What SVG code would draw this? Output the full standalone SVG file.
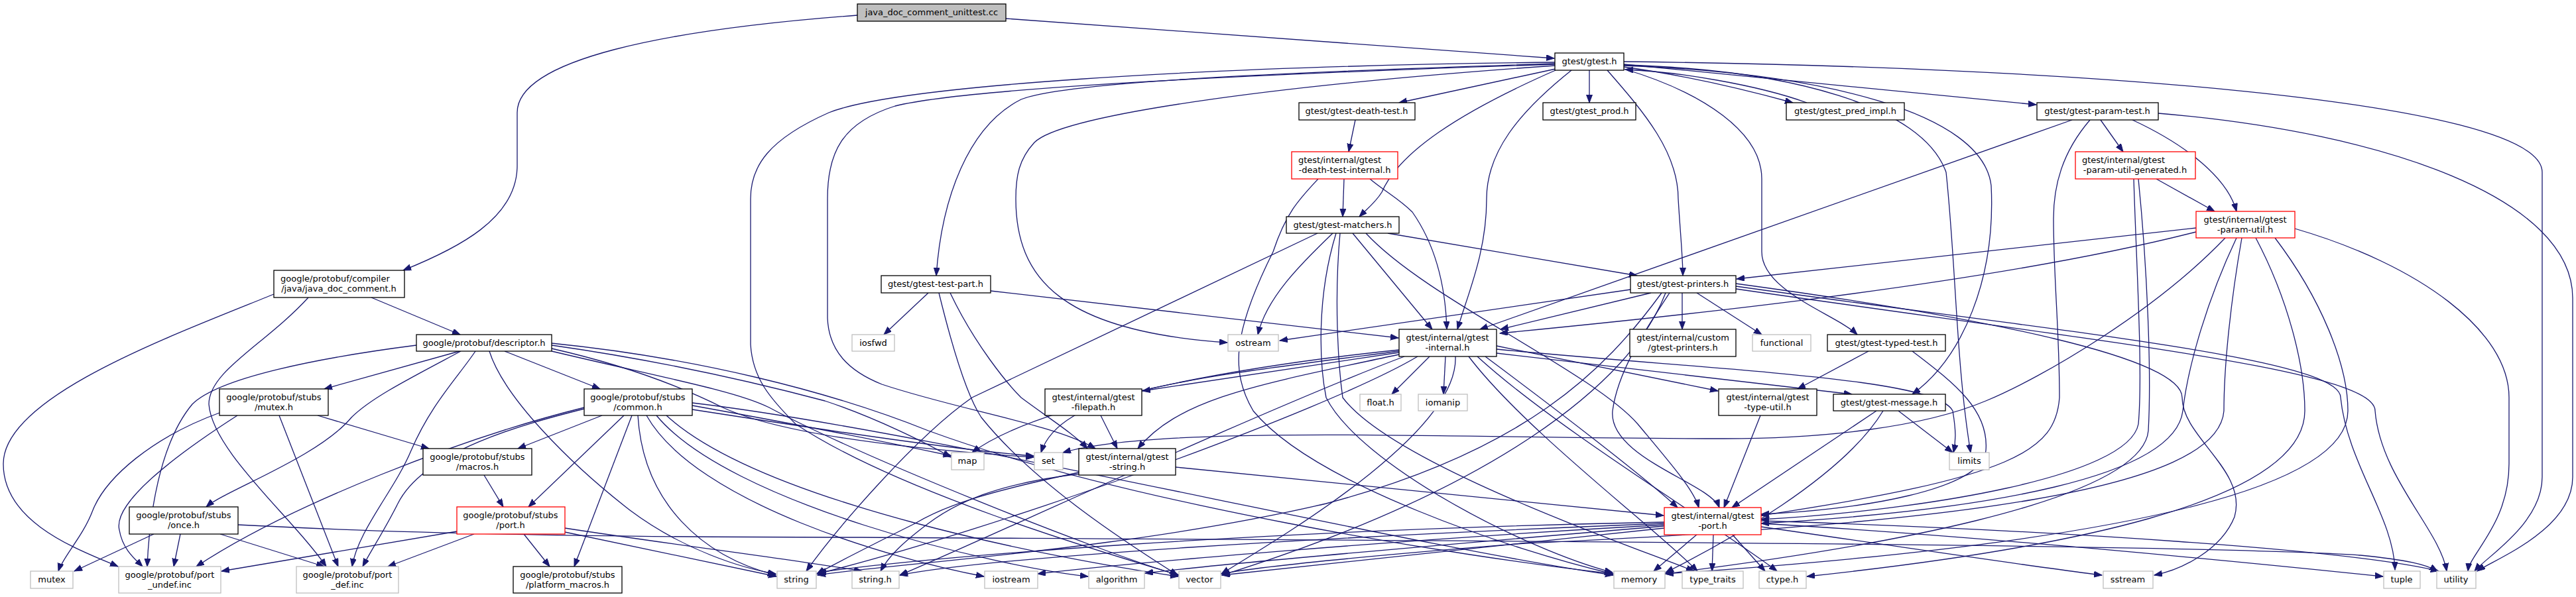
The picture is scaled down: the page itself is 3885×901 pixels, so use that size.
<svg xmlns="http://www.w3.org/2000/svg" width="3885" height="901" viewBox="0 0 3885 901">
<style>
rect{fill:#fff;stroke-width:1.3}
.b{stroke:#000}
.g{stroke:#bfbfbf}
.r{stroke:#ff0000}
.f{fill:#bfbfbf;stroke:#000}
text{font-family:"DejaVu Sans","Liberation Sans",sans-serif;font-size:13px;fill:#000}
.c{text-anchor:middle}
#edges path{fill:none;stroke:#191970;stroke-width:1.3;marker-end:url(#a)}
</style>
<defs>
<marker id="a" markerUnits="userSpaceOnUse" markerWidth="13" markerHeight="10" refX="12" refY="4.5" orient="auto">
<path d="M0,0 L12,4.5 L0,9 z" fill="#191970" stroke="#191970" stroke-width="1"/>
</marker>
</defs>
<rect x="0" y="0" width="3885" height="901" style="fill:#fff;stroke:none"/>
<g id="edges">
<path d="M1517,28 L2344,88"/>
<path d="M1293,23 C1000,45 780,90 780,170 L780,250 C780,330 690,375 608,408"/>
<path d="M2346,104 L2110,155"/>
<path d="M2397,106 L2397,155"/>
<path d="M2449,101 C2530,112 2620,132 2704,155"/>
<path d="M2725,155 C2650,128 2530,108 2451,105"/>
<path d="M2449,97 L3071,158"/>
<path d="M2449,104 C2570,140 2657,200 2657,270 L2657,380 C2657,440 2770,475 2801,505"/>
<path d="M2345,96 C1900,110 1600,125 1540,150 C1460,190 1420,300 1412,416"/>
<path d="M2345,99 C1900,130 1600,175 1560,215 C1537,240 1532,265 1532,300 C1532,420 1600,500 1851,517"/>
<path d="M2346,106 C2200,170 2110,230 2084,290 C2075,305 2062,315 2050,327"/>
<path d="M2370,106 C2290,170 2242,230 2242,300 C2242,380 2215,440 2198,497"/>
<path d="M2424,106 C2480,170 2531,230 2531,300 C2534,350 2538,390 2538,416"/>
<path d="M2449,99 C2750,110 2990,170 3003,280 C3010,420 2960,540 2884,595"/>
<path d="M2449,98 C2700,105 2900,160 2935,260 C2950,400 2950,550 2972,683"/>
<path d="M2449,93 C3100,100 3834,150 3834,260 L3834,720 C3834,790 3750,840 3732,862"/>
<path d="M2345,94 C1800,100 1350,130 1250,170 C1160,210 1132,250 1132,300 L1132,520 C1135,570 1160,600 1200,640 C1350,740 1650,830 1778,868"/>
<path d="M2345,97 C1800,115 1450,135 1350,160 C1270,185 1248,230 1248,300 L1248,480 C1250,530 1280,560 1330,580 C1450,620 1590,640 1652,677"/>
<path d="M2044,181 L2034,229"/>
<path d="M2027,270 L2025,327"/>
<path d="M2066,270 C2090,290 2110,300 2130,320 C2165,370 2180,430 2182,497"/>
<path d="M1988,270 C1960,300 1940,320 1920,380 C1860,500 1855,560 1890,620 C1980,730 2280,830 2432,866"/>
<path d="M3125,181 L2232,497"/>
<path d="M3152,181 C3110,230 3097,280 3097,330 C3097,420 3106,500 3106,600 C3100,680 3040,720 2656,778"/>
<path d="M3168,181 L3202,229"/>
<path d="M3216,181 C3300,220 3360,270 3373,319"/>
<path d="M3255,171 C3600,200 3880,300 3880,450 L3880,720 C3880,800 3760,845 3736,862"/>
<path d="M3252,270 L3340,319"/>
<path d="M3218,270 C3222,400 3232,560 3225,640 C3210,720 2900,770 2656,784"/>
<path d="M3225,270 C3238,400 3245,560 3240,650 C3230,760 2800,830 2511,866"/>
<path d="M3312,344 L2619,421"/>
<path d="M3312,350 C3000,430 2500,480 2262,503"/>
<path d="M3356,359 C3250,470 3080,570 2995,605 C2900,645 2750,662 2600,662 C2200,662 1750,640 1603,683"/>
<path d="M3373,359 C3330,450 3300,550 3292,620 C3280,720 3000,770 2656,790"/>
<path d="M3381,359 C3365,450 3354,550 3354,620 C3345,740 2950,790 2300,820 C2050,840 1900,855 1842,866"/>
<path d="M3402,359 C3450,450 3476,550 3476,620 C3476,760 3100,830 2725,870"/>
<path d="M3431,359 C3500,450 3541,550 3541,620 C3541,780 2900,840 2512,866"/>
<path d="M3461,345 C3650,400 3784,500 3784,600 L3784,700 C3784,790 3725,835 3722,862"/>
<path d="M2093,352 L2469,416"/>
<path d="M2040,352 L2160,497"/>
<path d="M2010,352 C1960,400 1910,450 1897,505"/>
<path d="M1987,352 L1466,600 C1380,660 1260,800 1216,862"/>
<path d="M2015,352 C1985,450 1990,550 2000,600 C2050,700 2300,830 2432,864"/>
<path d="M2021,352 C2012,450 2018,550 2025,600 C2100,700 2450,820 2555,862"/>
<path d="M2060,352 C2150,450 2400,560 2470,640 C2520,700 2555,740 2562,766"/>
<path d="M1400,442 L1333,505"/>
<path d="M1416,442 C1440,540 1460,600 1480,630 C1560,730 1700,820 1776,868"/>
<path d="M1433,442 C1470,520 1520,580 1540,600 C1580,630 1620,655 1640,677"/>
<path d="M1494,439 L2109,510"/>
<path d="M2459,437 L1930,514"/>
<path d="M2490,442 L2263,497"/>
<path d="M2537,442 L2537,497"/>
<path d="M2559,442 L2657,505"/>
<path d="M2506,442 C2420,560 2300,680 2000,760 C1700,830 1350,850 1233,868"/>
<path d="M2512,442 C2460,580 2250,740 1843,868"/>
<path d="M2518,442 C2480,500 2440,560 2432,620 C2425,690 2580,730 2593,766"/>
<path d="M2618,428 C3000,480 3291,540 3291,600 C3291,660 3390,710 3370,780 C3350,830 3290,860 3249,868"/>
<path d="M2618,432 C3100,500 3530,540 3530,600 C3540,700 3610,780 3612,860"/>
<path d="M2618,436 C3200,520 3582,560 3582,620 C3590,720 3680,800 3690,862"/>
<path d="M2110,528 C1800,560 1550,620 1466,683"/>
<path d="M2110,530 C1800,570 1600,590 1570,683"/>
<path d="M2110,532 L1723,590"/>
<path d="M2110,535 C1900,580 1780,600 1716,677"/>
<path d="M2138,538 C2000,620 1500,800 1233,866"/>
<path d="M2118,538 C1900,620 1450,830 1357,868"/>
<path d="M2156,538 L2099,595"/>
<path d="M2180,538 L2177,595"/>
<path d="M2195,538 C2200,650 1950,800 1842,866"/>
<path d="M2257,527 C2600,560 2920,570 2945,620 C2950,650 2950,665 2946,683"/>
<path d="M2215,538 C2300,650 2500,800 2560,862"/>
<path d="M2228,538 C2350,650 2600,800 2680,862"/>
<path d="M2240,538 C2350,620 2480,720 2530,766"/>
<path d="M2257,533 L2793,595"/>
<path d="M2257,522 L2591,590"/>
<path d="M2818,530 L2711,587"/>
<path d="M2884,530 C2950,580 3000,620 2995,680 C2990,740 2800,770 2656,776"/>
<path d="M2655,627 L2600,766"/>
<path d="M1660,627 L1685,677"/>
<path d="M2863,620 L2945,683"/>
<path d="M2830,620 L2612,766"/>
<path d="M2840,620 C2780,720 2600,820 2512,864"/>
<path d="M1773,705 L2509,778"/>
<path d="M1627,713 C1500,740 1430,760 1380,790 C1300,830 1260,850 1232,866"/>
<path d="M1630,715 C1500,730 1440,760 1400,790 C1360,820 1340,840 1328,862"/>
<path d="M2510,790 C2000,810 1500,840 1357,868"/>
<path d="M2510,792 C2100,815 1700,850 1565,866"/>
<path d="M2510,794 C2200,820 1850,850 1727,865"/>
<path d="M2510,797 C2250,825 1950,855 1843,868"/>
<path d="M2510,788 C1900,800 1400,840 1234,864"/>
<path d="M2560,806 L2494,862"/>
<path d="M2584,806 L2582,862"/>
<path d="M2612,806 L2662,862"/>
<path d="M2656,795 C2900,830 3100,860 3170,868"/>
<path d="M2656,790 C3000,810 3400,850 3594,870"/>
<path d="M2656,786 C3100,800 3550,830 3678,862"/>
<path d="M693,530 L489,587"/>
<path d="M695,530 C620,570 560,600 530,630 C480,690 340,740 311,765"/>
<path d="M717,530 C690,570 650,610 620,680 C595,740 540,800 531,855"/>
<path d="M738,530 C760,600 860,700 950,770 C1030,830 1120,858 1170,866"/>
<path d="M761,530 L905,587"/>
<path d="M628,521 C480,540 330,570 290,610 C240,670 225,780 222,855"/>
<path d="M832,521 C1000,545 1150,580 1244,605 C1320,630 1400,670 1434,690"/>
<path d="M832,526 C960,555 1040,590 1090,615 C1200,665 1450,683 1559,690"/>
<path d="M832,530 C1000,570 1110,590 1160,615 C1300,690 1650,830 1777,868"/>
<path d="M832,518 C1050,540 1250,590 1400,650 C1700,760 2200,840 2433,866"/>
<path d="M560,449 L694,505"/>
<path d="M413,444 C250,510 5,600 5,700 C5,790 120,830 178,855"/>
<path d="M465,449 C400,520 315,560 315,610 C320,680 440,780 492,855"/>
<path d="M331,623 C230,660 160,720 140,770 C125,810 95,840 88,862"/>
<path d="M358,627 C260,690 170,760 180,800 C185,830 205,845 215,855"/>
<path d="M421,627 L510,855"/>
<path d="M479,627 L647,677"/>
<path d="M881,615 C700,660 440,760 296,855"/>
<path d="M881,617 C790,640 640,680 600,760 C580,800 560,830 547,855"/>
<path d="M908,627 L781,677"/>
<path d="M941,627 L797,765"/>
<path d="M953,627 L866,855"/>
<path d="M962,627 C970,760 1060,840 1170,868"/>
<path d="M975,627 C1050,760 1350,845 1484,870"/>
<path d="M990,627 C1100,760 1500,855 1641,870"/>
<path d="M1005,627 C1150,760 1600,845 1777,870"/>
<path d="M1044,612 C1200,640 1350,670 1435,688"/>
<path d="M1044,618 C1250,650 1450,680 1559,688"/>
<path d="M1044,608 C1400,650 2100,820 2433,868"/>
<path d="M689,802 L334,862"/>
<path d="M715,806 L585,855"/>
<path d="M790,806 L829,855"/>
<path d="M852,803 L1171,870"/>
<path d="M852,797 C1000,820 1200,845 1300,862"/>
<path d="M232,806 L112,862"/>
<path d="M272,806 L262,855"/>
<path d="M332,806 L489,855"/>
<path d="M359,792 C600,805 900,811 1300,811 C2000,815 3300,820 3560,838 C3630,845 3660,852 3676,862"/>
<path d="M730,717 L759,765"/>
</g>
<g id="n_cc"><rect class="f" x="1293" y="6" width="224" height="26"/><text class="c" x="1405" y="23">java_doc_comment_unittest.cc</text></g>
<g id="n_gtest"><rect class="b" x="2345" y="80" width="104" height="26"/><text class="c" x="2397" y="97">gtest/gtest.h</text></g>
<g id="n_death"><rect class="b" x="1959" y="155" width="175" height="26"/><text class="c" x="2046" y="172">gtest/gtest-death-test.h</text></g>
<g id="n_prod"><rect class="b" x="2327" y="155" width="140" height="26"/><text class="c" x="2397" y="172">gtest/gtest_prod.h</text></g>
<g id="n_pred"><rect class="b" x="2694" y="155" width="178" height="26"/><text class="c" x="2783" y="172">gtest/gtest_pred_impl.h</text></g>
<g id="n_ptest"><rect class="b" x="3072" y="155" width="183" height="26"/><text class="c" x="3163" y="172">gtest/gtest-param-test.h</text></g>
<g id="n_dti"><rect class="r" x="1948" y="229" width="160" height="41"/><text x="1958" y="246">gtest/internal/gtest</text><text class="c" x="2028" y="261">-death-test-internal.h</text></g>
<g id="n_pug"><rect class="r" x="3130" y="229" width="181" height="41"/><text x="3140" y="246">gtest/internal/gtest</text><text class="c" x="3220" y="261">-param-util-generated.h</text></g>
<g id="n_pu"><rect class="r" x="3312" y="319" width="149" height="40"/><text class="c" x="3386" y="336">gtest/internal/gtest</text><text class="c" x="3386" y="351">-param-util.h</text></g>
<g id="n_match"><rect class="b" x="1940" y="327" width="170" height="25"/><text class="c" x="2025" y="344">gtest/gtest-matchers.h</text></g>
<g id="n_jdc"><rect class="b" x="413" y="408" width="197" height="41"/><text x="423" y="425">google/protobuf/compiler</text><text class="c" x="511" y="440">/java/java_doc_comment.h</text></g>
<g id="n_tpart"><rect class="b" x="1329" y="416" width="165" height="26"/><text class="c" x="1411" y="433">gtest/gtest-test-part.h</text></g>
<g id="n_prn"><rect class="b" x="2459" y="416" width="159" height="26"/><text class="c" x="2538" y="433">gtest/gtest-printers.h</text></g>
<g id="n_desc"><rect class="b" x="628" y="505" width="204" height="25"/><text class="c" x="730" y="522">google/protobuf/descriptor.h</text></g>
<g id="n_iosfwd"><rect class="g" x="1285" y="505" width="64" height="25"/><text class="c" x="1317" y="522">iosfwd</text></g>
<g id="n_ostream"><rect class="g" x="1852" y="505" width="76" height="25"/><text class="c" x="1890" y="522">ostream</text></g>
<g id="n_gint"><rect class="b" x="2110" y="497" width="147" height="41"/><text class="c" x="2183" y="514">gtest/internal/gtest</text><text class="c" x="2183" y="529">-internal.h</text></g>
<g id="n_cprn"><rect class="b" x="2458" y="497" width="160" height="41"/><text class="c" x="2538" y="514">gtest/internal/custom</text><text class="c" x="2538" y="529">/gtest-printers.h</text></g>
<g id="n_func"><rect class="g" x="2643" y="505" width="88" height="25"/><text class="c" x="2687" y="522">functional</text></g>
<g id="n_typed"><rect class="b" x="2756" y="505" width="178" height="25"/><text class="c" x="2845" y="522">gtest/gtest-typed-test.h</text></g>
<g id="n_mutexh"><rect class="b" x="331" y="587" width="164" height="40"/><text class="c" x="413" y="604">google/protobuf/stubs</text><text class="c" x="413" y="619">/mutex.h</text></g>
<g id="n_common"><rect class="b" x="881" y="587" width="163" height="40"/><text class="c" x="962" y="604">google/protobuf/stubs</text><text class="c" x="962" y="619">/common.h</text></g>
<g id="n_fpath"><rect class="b" x="1576" y="587" width="146" height="40"/><text class="c" x="1649" y="604">gtest/internal/gtest</text><text class="c" x="1649" y="619">-filepath.h</text></g>
<g id="n_float"><rect class="g" x="2051" y="595" width="62" height="25"/><text class="c" x="2082" y="612">float.h</text></g>
<g id="n_iomanip"><rect class="g" x="2139" y="595" width="74" height="25"/><text class="c" x="2176" y="612">iomanip</text></g>
<g id="n_tutil"><rect class="b" x="2592" y="587" width="148" height="40"/><text class="c" x="2666" y="604">gtest/internal/gtest</text><text class="c" x="2666" y="619">-type-util.h</text></g>
<g id="n_msg"><rect class="b" x="2765" y="595" width="169" height="25"/><text class="c" x="2849" y="612">gtest/gtest-message.h</text></g>
<g id="n_macros"><rect class="b" x="638" y="677" width="164" height="40"/><text class="c" x="720" y="694">google/protobuf/stubs</text><text class="c" x="720" y="709">/macros.h</text></g>
<g id="n_map"><rect class="g" x="1435" y="683" width="49" height="26"/><text class="c" x="1459" y="700">map</text></g>
<g id="n_set"><rect class="g" x="1560" y="683" width="43" height="26"/><text class="c" x="1581" y="700">set</text></g>
<g id="n_gstr"><rect class="b" x="1627" y="677" width="146" height="40"/><text class="c" x="1700" y="694">gtest/internal/gtest</text><text class="c" x="1700" y="709">-string.h</text></g>
<g id="n_limits"><rect class="g" x="2940" y="683" width="60" height="26"/><text class="c" x="2970" y="700">limits</text></g>
<g id="n_once"><rect class="b" x="195" y="765" width="164" height="41"/><text class="c" x="277" y="782">google/protobuf/stubs</text><text class="c" x="277" y="797">/once.h</text></g>
<g id="n_pport"><rect class="r" x="689" y="765" width="163" height="41"/><text class="c" x="770" y="782">google/protobuf/stubs</text><text class="c" x="770" y="797">/port.h</text></g>
<g id="n_gport"><rect class="r" x="2510" y="766" width="146" height="41"/><text class="c" x="2583" y="783">gtest/internal/gtest</text><text class="c" x="2583" y="798">-port.h</text></g>
<g id="n_mutex"><rect class="g" x="46" y="862" width="64" height="26"/><text class="c" x="78" y="879">mutex</text></g>
<g id="n_undef"><rect class="g" x="179" y="855" width="154" height="40"/><text class="c" x="256" y="872">google/protobuf/port</text><text class="c" x="256" y="887">_undef.inc</text></g>
<g id="n_def"><rect class="g" x="447" y="855" width="154" height="40"/><text class="c" x="524" y="872">google/protobuf/port</text><text class="c" x="524" y="887">_def.inc</text></g>
<g id="n_plat"><rect class="b" x="774" y="855" width="164" height="40"/><text class="c" x="856" y="872">google/protobuf/stubs</text><text class="c" x="856" y="887">/platform_macros.h</text></g>
<g id="n_string"><rect class="g" x="1172" y="862" width="59" height="26"/><text class="c" x="1201" y="879">string</text></g>
<g id="n_stringh"><rect class="g" x="1285" y="862" width="71" height="26"/><text class="c" x="1320" y="879">string.h</text></g>
<g id="n_iostream"><rect class="g" x="1485" y="862" width="80" height="26"/><text class="c" x="1525" y="879">iostream</text></g>
<g id="n_algorithm"><rect class="g" x="1642" y="862" width="84" height="26"/><text class="c" x="1684" y="879">algorithm</text></g>
<g id="n_vector"><rect class="g" x="1778" y="862" width="63" height="26"/><text class="c" x="1809" y="879">vector</text></g>
<g id="n_memory"><rect class="g" x="2434" y="862" width="77" height="26"/><text class="c" x="2472" y="879">memory</text></g>
<g id="n_ttraits"><rect class="g" x="2537" y="862" width="92" height="26"/><text class="c" x="2583" y="879">type_traits</text></g>
<g id="n_ctype"><rect class="g" x="2653" y="862" width="71" height="26"/><text class="c" x="2688" y="879">ctype.h</text></g>
<g id="n_sstream"><rect class="g" x="3172" y="862" width="75" height="26"/><text class="c" x="3209" y="879">sstream</text></g>
<g id="n_tuple"><rect class="g" x="3595" y="862" width="55" height="26"/><text class="c" x="3622" y="879">tuple</text></g>
<g id="n_utility"><rect class="g" x="3675" y="862" width="59" height="26"/><text class="c" x="3704" y="879">utility</text></g>
</svg>
